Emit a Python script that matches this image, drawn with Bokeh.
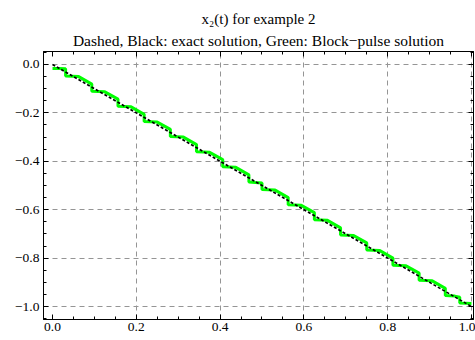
from bokeh.plotting import figure
from bokeh.models import FixedTicker, LinearAxis, Title, Range1d
from bokeh.embed import file_html
from bokeh.resources import INLINE

# ---- data ----
exact_t = [0.0, 0.1, 0.2, 0.3, 0.4, 0.5, 0.6, 0.7, 0.8, 0.9, 1.0]
exact_y = [0.0, -0.1, -0.2, -0.3, -0.4, -0.5, -0.6, -0.7, -0.8, -0.9, -1.0]

bp_t = [0.0, 0.016, 0.03125, 0.03125, 0.0625, 0.09375, 0.09375, 0.125,
        0.15625, 0.15625, 0.1875, 0.21875, 0.21875, 0.25, 0.28125, 0.28125,
        0.3125, 0.34375, 0.34375, 0.375, 0.40625, 0.40625, 0.4375, 0.46875,
        0.46875, 0.484, 0.5, 0.5, 0.53125, 0.5625, 0.5625, 0.59375, 0.625,
        0.625, 0.65625, 0.6875, 0.6875, 0.71875, 0.75, 0.75, 0.78125, 0.8125,
        0.8125, 0.84375, 0.875, 0.875, 0.90625, 0.9375, 0.9375, 0.96, 0.972,
        0.972, 1.0]
bp_y = [-0.017, -0.017, -0.018, -0.048, -0.050, -0.081, -0.111, -0.113,
        -0.143, -0.173, -0.175, -0.206, -0.236, -0.238, -0.268, -0.298,
        -0.300, -0.331, -0.361, -0.363, -0.393, -0.423, -0.425, -0.456,
        -0.486, -0.488, -0.490, -0.517, -0.519, -0.550, -0.580, -0.582, -0.612,
        -0.642, -0.644, -0.675, -0.705, -0.707, -0.737, -0.767, -0.769, -0.800,
        -0.830, -0.832, -0.862, -0.892, -0.894, -0.925, -0.955, -0.957, -0.962,
        -0.986, -0.988]

x_ticks = [0.0, 0.2, 0.4, 0.6, 0.8, 1.0]
x_tick_labels = ["0.0", "0.2", "0.4", "0.6", "0.8", "1.0"]
x_minor = [0.05, 0.1, 0.15, 0.25, 0.3, 0.35, 0.45, 0.5, 0.55, 0.65, 0.7, 0.75,
           0.85, 0.9, 0.95]
x_grid = [0.2, 0.4, 0.6, 0.8, 1.0]

y_ticks = [0.0, -0.2, -0.4, -0.6, -0.8, -1.0]
y_tick_labels = ["0.0", "\u22120.2", "\u22120.4", "\u22120.6", "\u22120.8", "\u22121.0"]
y_minor = [0.05, -0.05, -0.1, -0.15, -0.25, -0.3, -0.35, -0.45, -0.5, -0.55,
           -0.65, -0.7, -0.75, -0.85, -0.9, -0.95, -1.05]

title_text = "x\u2082(t) for example 2"
subtitle = "Dashed, Black: exact solution, Green: Block\u2212pulse solution"

FONT = "Liberation Serif"

p = figure(width=475, height=340,
           x_range=Range1d(-0.0215, 1.0048), y_range=Range1d(-1.0537, 0.0537),
           output_backend="svg", toolbar_location=None,
           min_border_left=43, min_border_right=2, min_border_top=51,
           min_border_bottom=21)
p.background_fill_color = "white"
p.border_fill_color = "white"
p.outline_line_color = "black"
p.outline_line_width = 1

# axes
for ax, ticks, minor, labels in ((p.xaxis[0], x_ticks, x_minor, x_tick_labels),
                                 (p.yaxis[0], y_ticks, y_minor, y_tick_labels)):
    ax.ticker = FixedTicker(ticks=ticks, minor_ticks=minor)
    ax.major_label_overrides = dict(zip(ticks, labels))
    ax.major_tick_in = 5
    ax.major_tick_out = 0
    ax.minor_tick_in = 3
    ax.minor_tick_out = 0
    ax.axis_line_color = "black"
    ax.major_tick_line_color = "black"
    ax.minor_tick_line_color = "black"
    ax.major_label_text_font = FONT
    ax.major_label_text_font_size = "13.5px"
    ax.major_label_text_color = "black"
p.xaxis[0].major_label_standoff = 3
p.yaxis[0].major_label_standoff = 4

top = LinearAxis(ticker=FixedTicker(ticks=x_ticks, minor_ticks=x_minor),
                 major_label_overrides={t: "" for t in x_ticks},
                 major_label_text_font_size="0px",
                 major_tick_in=5, major_tick_out=0, minor_tick_in=3, minor_tick_out=0,
                 major_label_standoff=0, axis_line_color="black",
                 major_tick_line_color="black", minor_tick_line_color="black")
p.add_layout(top, "above")
right = LinearAxis(ticker=FixedTicker(ticks=y_ticks, minor_ticks=y_minor),
                   major_label_overrides={t: "" for t in y_ticks},
                   major_label_text_font_size="0px",
                   major_tick_in=5, major_tick_out=0, minor_tick_in=3, minor_tick_out=0,
                   major_label_standoff=0, axis_line_color="black",
                   major_tick_line_color="black", minor_tick_line_color="black")
p.add_layout(right, "right")

# grid
p.xgrid.ticker = FixedTicker(ticks=x_grid)
p.ygrid.ticker = FixedTicker(ticks=y_ticks)
for g in (p.xgrid[0], p.ygrid[0]):
    g.grid_line_color = "#959595"
    g.grid_line_dash = "5 4"
    g.grid_line_width = 1

# series
p.line(bp_t, bp_y, line_color="#00ff00", line_width=3)
p.line(exact_t, exact_y, line_color="black", line_width=1.6, line_dash="3 2")

# titles (inner first)
p.add_layout(Title(text=subtitle, text_font=FONT, text_font_size="15.5px",
                   text_font_style="normal", text_color="black", align="center",
                   offset=5, standoff=5), "above")
p.add_layout(Title(text=title_text, text_font=FONT, text_font_size="15px",
                   text_font_style="normal", text_color="black", align="center",
                   offset=2, standoff=1), "above")

open("out.html", "w").write(file_html(p, INLINE))
